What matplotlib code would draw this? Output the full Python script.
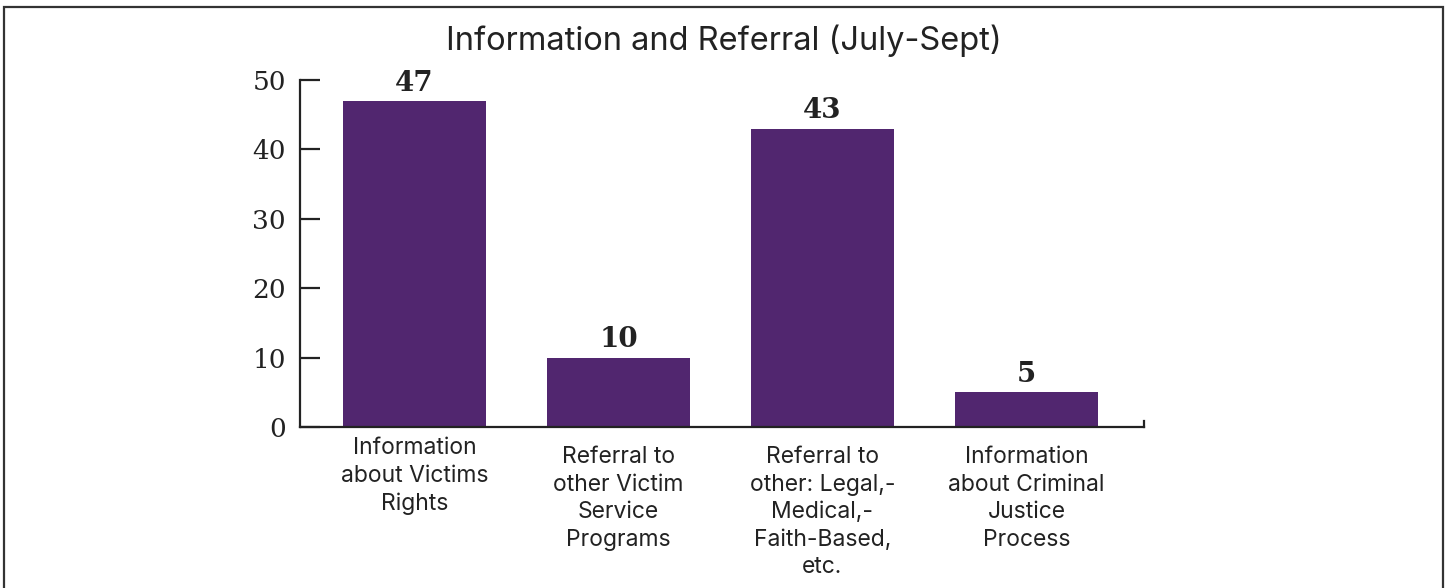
import matplotlib.pyplot as plt
import matplotlib.transforms as mtransforms
from matplotlib.patches import Rectangle

# data
categories = ["Information\nabout Victims\nRights",
              "Referral to\nother Victim\nService\nPrograms",
              "Referral to\nother: Legal,-\nMedical,-\nFaith-Based,\netc.",
              "Information\nabout Criminal\nJustice\nProcess"]
counts = [47, 10, 43, 5]
yticks = [0, 10, 20, 30, 40, 50]
title = "Information and Referral (July-Sept)"

bar_color = '#51266f'
ink = '#222222'

fig = plt.figure(figsize=(14.47, 5.88), dpi=100)
ax = fig.add_axes([0.2073, 0.2738, 0.5833, 0.5901])

x = list(range(len(counts)))
bars = ax.bar(x, counts, width=0.70, color=bar_color, zorder=2)

for xi, v in zip(x, counts):
    ax.text(xi, v + 0.6, str(v), ha='center', va='bottom',
            fontsize=20, fontweight='bold', family='DejaVu Serif', color=ink)

ax.set_xlim(-0.561, 3.576)
ax.set_ylim(0, 50)
ax.set_yticks(yticks)
ax.set_yticklabels([str(t) for t in yticks], family='DejaVu Serif', fontsize=19, color=ink)
ax.tick_params(axis='y', direction='in', length=14.5, width=1.6, color=ink, pad=10)

ax.set_xticks(x)
ax.set_xticklabels(categories, family='Inter', fontsize=16.5, color=ink,
                   linespacing=1.32, ha='center', va='top')
ax.tick_params(axis='x', length=0, pad=14)
# first label sits a bit higher in the original
off = mtransforms.ScaledTranslation(0, 9 / 100, fig.dpi_scale_trans)
lbl0 = ax.get_xticklabels()[0]
lbl0.set_transform(lbl0.get_transform() + off)

ax.spines['top'].set_visible(False)
for s in ['left', 'bottom', 'right']:
    ax.spines[s].set_linewidth(1.6)
    ax.spines[s].set_color(ink)
ax.spines['right'].set_bounds(0, 0.8)

fig.text(0.5, 0.93, title, ha='center', va='center', family='Inter',
         fontsize=23.5, color=ink)

# outer frame
fig.patches.append(Rectangle((4 / 1447, -0.05), 1439 / 1447, 1.05 - 7 / 588,
                             transform=fig.transFigure, fill=False,
                             edgecolor='#333333', linewidth=1.6))

fig.savefig('out.png', dpi=100)
